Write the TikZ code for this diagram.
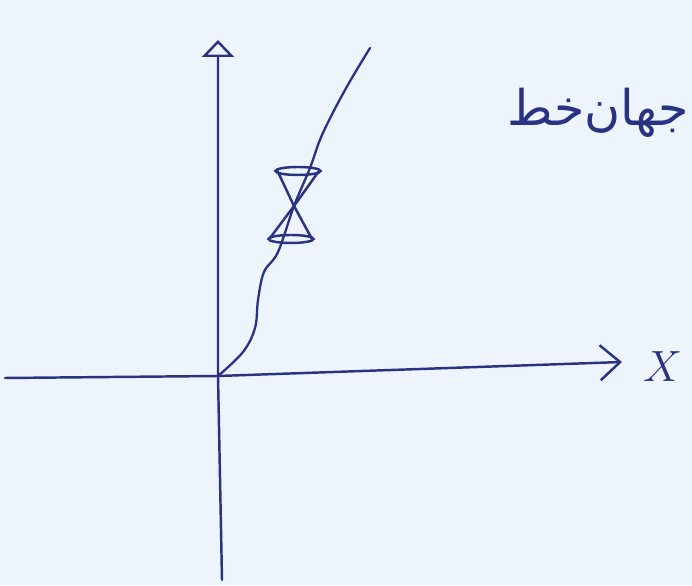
\documentclass[tikz,border=0pt]{standalone}
\usepackage{fontspec}
\newfontfamily\persianfont[Script=Arabic]{DejaVu Sans}
\TeXXeTstate=1
\usetikzlibrary{arrows.meta,positioning}
\definecolor{ink}{RGB}{42,50,130}
\definecolor{paper}{RGB}{237,244,251}
\tikzset{
  axis/.style={ink, line width=1.4pt, line cap=round},
  yaxis/.style={axis, -{Triangle[open,length=3.4mm,width=6.4mm,line width=1.4pt]}},
  xaxis/.style={axis, -{Straight Barb[length=4mm,width=7mm,line width=1.4pt]}},
  worldline/.style={ink, line width=1.3pt, line cap=round},
  cone/.style={ink, line width=1.4pt},
  hand/.style={ink, font=\persianfont\fontsize{28}{34}\selectfont},
}
\begin{document}
\begin{tikzpicture}
    \fill[paper] (0,0) rectangle (13.84,11.7);
    \useasboundingbox (0,0) rectangle (13.84,11.7);
    % axes
    \coordinate (O) at (4.36,4.18);
    \coordinate (ybot) at (4.44,0.1);
    \coordinate (ytop) at (4.36,10.9);
    \coordinate (xleft) at (0.1,4.14);
    \coordinate (xright) at (12.44,4.46);
    \draw[yaxis] (ybot) -- (O) -- (ytop);
    \draw[xaxis] (xleft) -- (O) -- (xright);
    \node[ink,font=\fontsize{30}{30}\selectfont,anchor=west] (xlab) at ([xshift=3mm,yshift=-1mm]xright) {$X$};
    % light cone
    \coordinate (vtx) at (5.88,7.58);
    \draw[cone] (5.96,8.28) ellipse (0.45 and 0.08);
    \draw[cone] (5.82,6.92) ellipse (0.45 and 0.08);
    \draw[cone] (5.54,8.3) -- (vtx) -- (6.24,6.92);
    \draw[cone] (6.38,8.28) -- (vtx) -- (5.4,6.94);
    % world line
    \coordinate (wlend) at (7.4,10.74);
    \draw[worldline] plot[smooth,tension=0.6] coordinates
      {(O) (4.86,4.66) (5.1,5.14) (5.16,5.7) (5.28,6.26) (5.56,6.66) (vtx) (6.2,8.34) (6.44,9.0) (6.9,9.9) (wlend)};
    \node[hand,anchor=east] (lbl) at (13.9,9.45) {\beginR جهان‌خط\endR};
\end{tikzpicture}
\end{document}
